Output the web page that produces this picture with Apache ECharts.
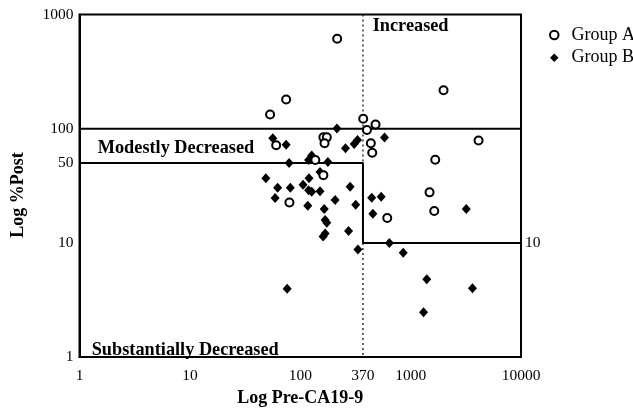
<!DOCTYPE html>
<html>
<head>
<meta charset="utf-8">
<script src="https://cdn.jsdelivr.net/npm/echarts@6/dist/echarts.min.js"></script>
<style>
html,body{margin:0;padding:0;background:#fff;}
#chart{width:633px;height:412px;}
</style>
</head>
<body>
<div id="chart"></div>
<script>
// Data (x: Pre-CA19-9, y: %Post)
const groupA = [
  [53.3,133],[74.5,180],[216,613],[60.5,71.7],[137,53.2],[162,84],[174,84],[166,74.6],
  [372,122],[481,109],[402,97.6],[436,74.6],[449,61.5],[1987,217],[4126,78.8],[1671,53.5],
  [162,39.2],[1484,27.7],[79.8,22.6],[1637,19.0],[614,16.5]
];
const groupB = [
  [56.4,82.4],[74.5,72.4],[79.3,50.1],[127,58.2],[119,53.2],[178,51.1],[215,100.6],[257,67.5],
  [308,73.6],[330,79.7],[580,83.6],[48.8,36.8],[62.4,30.4],[81.3,30.4],[59.2,24.7],[106,32.3],
  [120,36.8],[151,41.7],[119,28.9],[127,28.1],[151,28.4],[117,21.1],[207,23.7],[283,31.1],
  [165,19.8],[318,21.6],[168,15.9],[174,15.0],[274,12.7],[161,11.4],[168,12.1],[333,8.77],
  [444,24.9],[541,25.4],[455,18.0],[3192,19.8],[642,10.0],[857,8.18],[1400,4.81],[3634,4.01],
  [1309,2.47],[76.1,3.97]
];
const xTicks = [1, 10, 100, 370, 1000, 10000];
const yTicksLeft = [1, 10, 50, 100, 1000];
const yTicksRight = [10];
// Region boundaries
const lineIncreased = [[1,100],[10000,100]];
const lineModest = [[1,50],[370,50],[370,10],[10000,10]];
const dottedUpper = [[370,1000],[370,50]];
const dottedLower = [[370,10],[370,1]];

const FONT = 'Liberation Serif';
const chart = echarts.init(document.getElementById('chart'), null, {renderer:'canvas'});

function boundary(data, dotted){
  return {
    type:'line', data:data, symbol:'none', silent:true, animation:false,
    lineStyle: dotted ? {color:'#000', width:1.2, type:[2,3]} : {color:'#000', width:2},
    z:1
  };
}

chart.setOption({
  animation:false,
  backgroundColor:'#fff',
  grid:{left:79.5, right:112, top:14.5, bottom:50, show:true, borderColor:'#000', borderWidth:2, backgroundColor:'transparent'},
  xAxis:{
    type:'log', min:1, max:10000, logBase:10,
    name:'Log Pre-CA19-9', nameLocation:'middle', nameGap:31,
    nameTextStyle:{fontFamily:FONT, fontWeight:'bold', fontSize:18, color:'#000'},
    axisLine:{show:true, lineStyle:{color:'#000', width:2}},
    axisTick:{show:false},
    splitLine:{show:false},
    axisLabel:{customValues:xTicks, fontFamily:FONT, fontSize:15.5, color:'#000', margin:11, formatter:v=>String(Math.round(v))}
  },
  yAxis:[{
    type:'log', min:1, max:1000, logBase:10,
    axisLine:{show:true, lineStyle:{color:'#000', width:2}},
    axisTick:{show:false},
    splitLine:{show:false},
    axisLabel:{customValues:yTicksLeft, fontFamily:FONT, fontSize:15.5, color:'#000', margin:6, formatter:v=>String(Math.round(v))}
  },{
    type:'log', min:1, max:1000, logBase:10, position:'right',
    axisLine:{show:false},
    axisTick:{show:false},
    splitLine:{show:false},
    axisLabel:{customValues:yTicksRight, fontFamily:FONT, fontSize:15.5, color:'#000', margin:4, formatter:v=>String(Math.round(v))}
  }],
  legend:{
    data:[{name:'Group A', icon:'circle'},{name:'Group B', icon:'diamond'}],
    orient:'vertical', left:544, top:21,
    itemWidth:8.5, itemHeight:8.5, itemGap:4.7,
    textStyle:{fontFamily:FONT, fontSize:18, color:'#000', padding:[0,0,0,8]}
  },
  graphic:[
    {type:'text', left:372.7, top:17, style:{text:'Increased', font:'bold 18.3px "Liberation Serif"', fill:'#000'}},
    {type:'text', left:97.7, top:139.5, style:{text:'Modestly Decreased', font:'bold 18.3px "Liberation Serif"', fill:'#000'}},
    {type:'text', left:91.7, top:341.5, style:{text:'Substantially Decreased', font:'bold 18.3px "Liberation Serif"', fill:'#000'}},
    {type:'text', x:18.5, y:195, rotation:Math.PI/2, style:{text:'Log %Post', font:'bold 18px "Liberation Serif"', fill:'#000', align:'center', verticalAlign:'middle'}}
  ],
  series:[
    boundary(lineIncreased,false),
    boundary(lineModest,false),
    boundary(dottedUpper,true),
    boundary(dottedLower,true),
    {name:'Group A', type:'scatter', data:groupA, symbol:'circle', symbolSize:8,
     itemStyle:{color:'#fff', borderColor:'#000', borderWidth:2, opacity:1}, z:3},
    {name:'Group B', type:'scatter', data:groupB, symbol:'diamond', symbolSize:[9,10],
     itemStyle:{color:'#000', opacity:1}, z:2}
  ]
});
</script>
</body>
</html>
